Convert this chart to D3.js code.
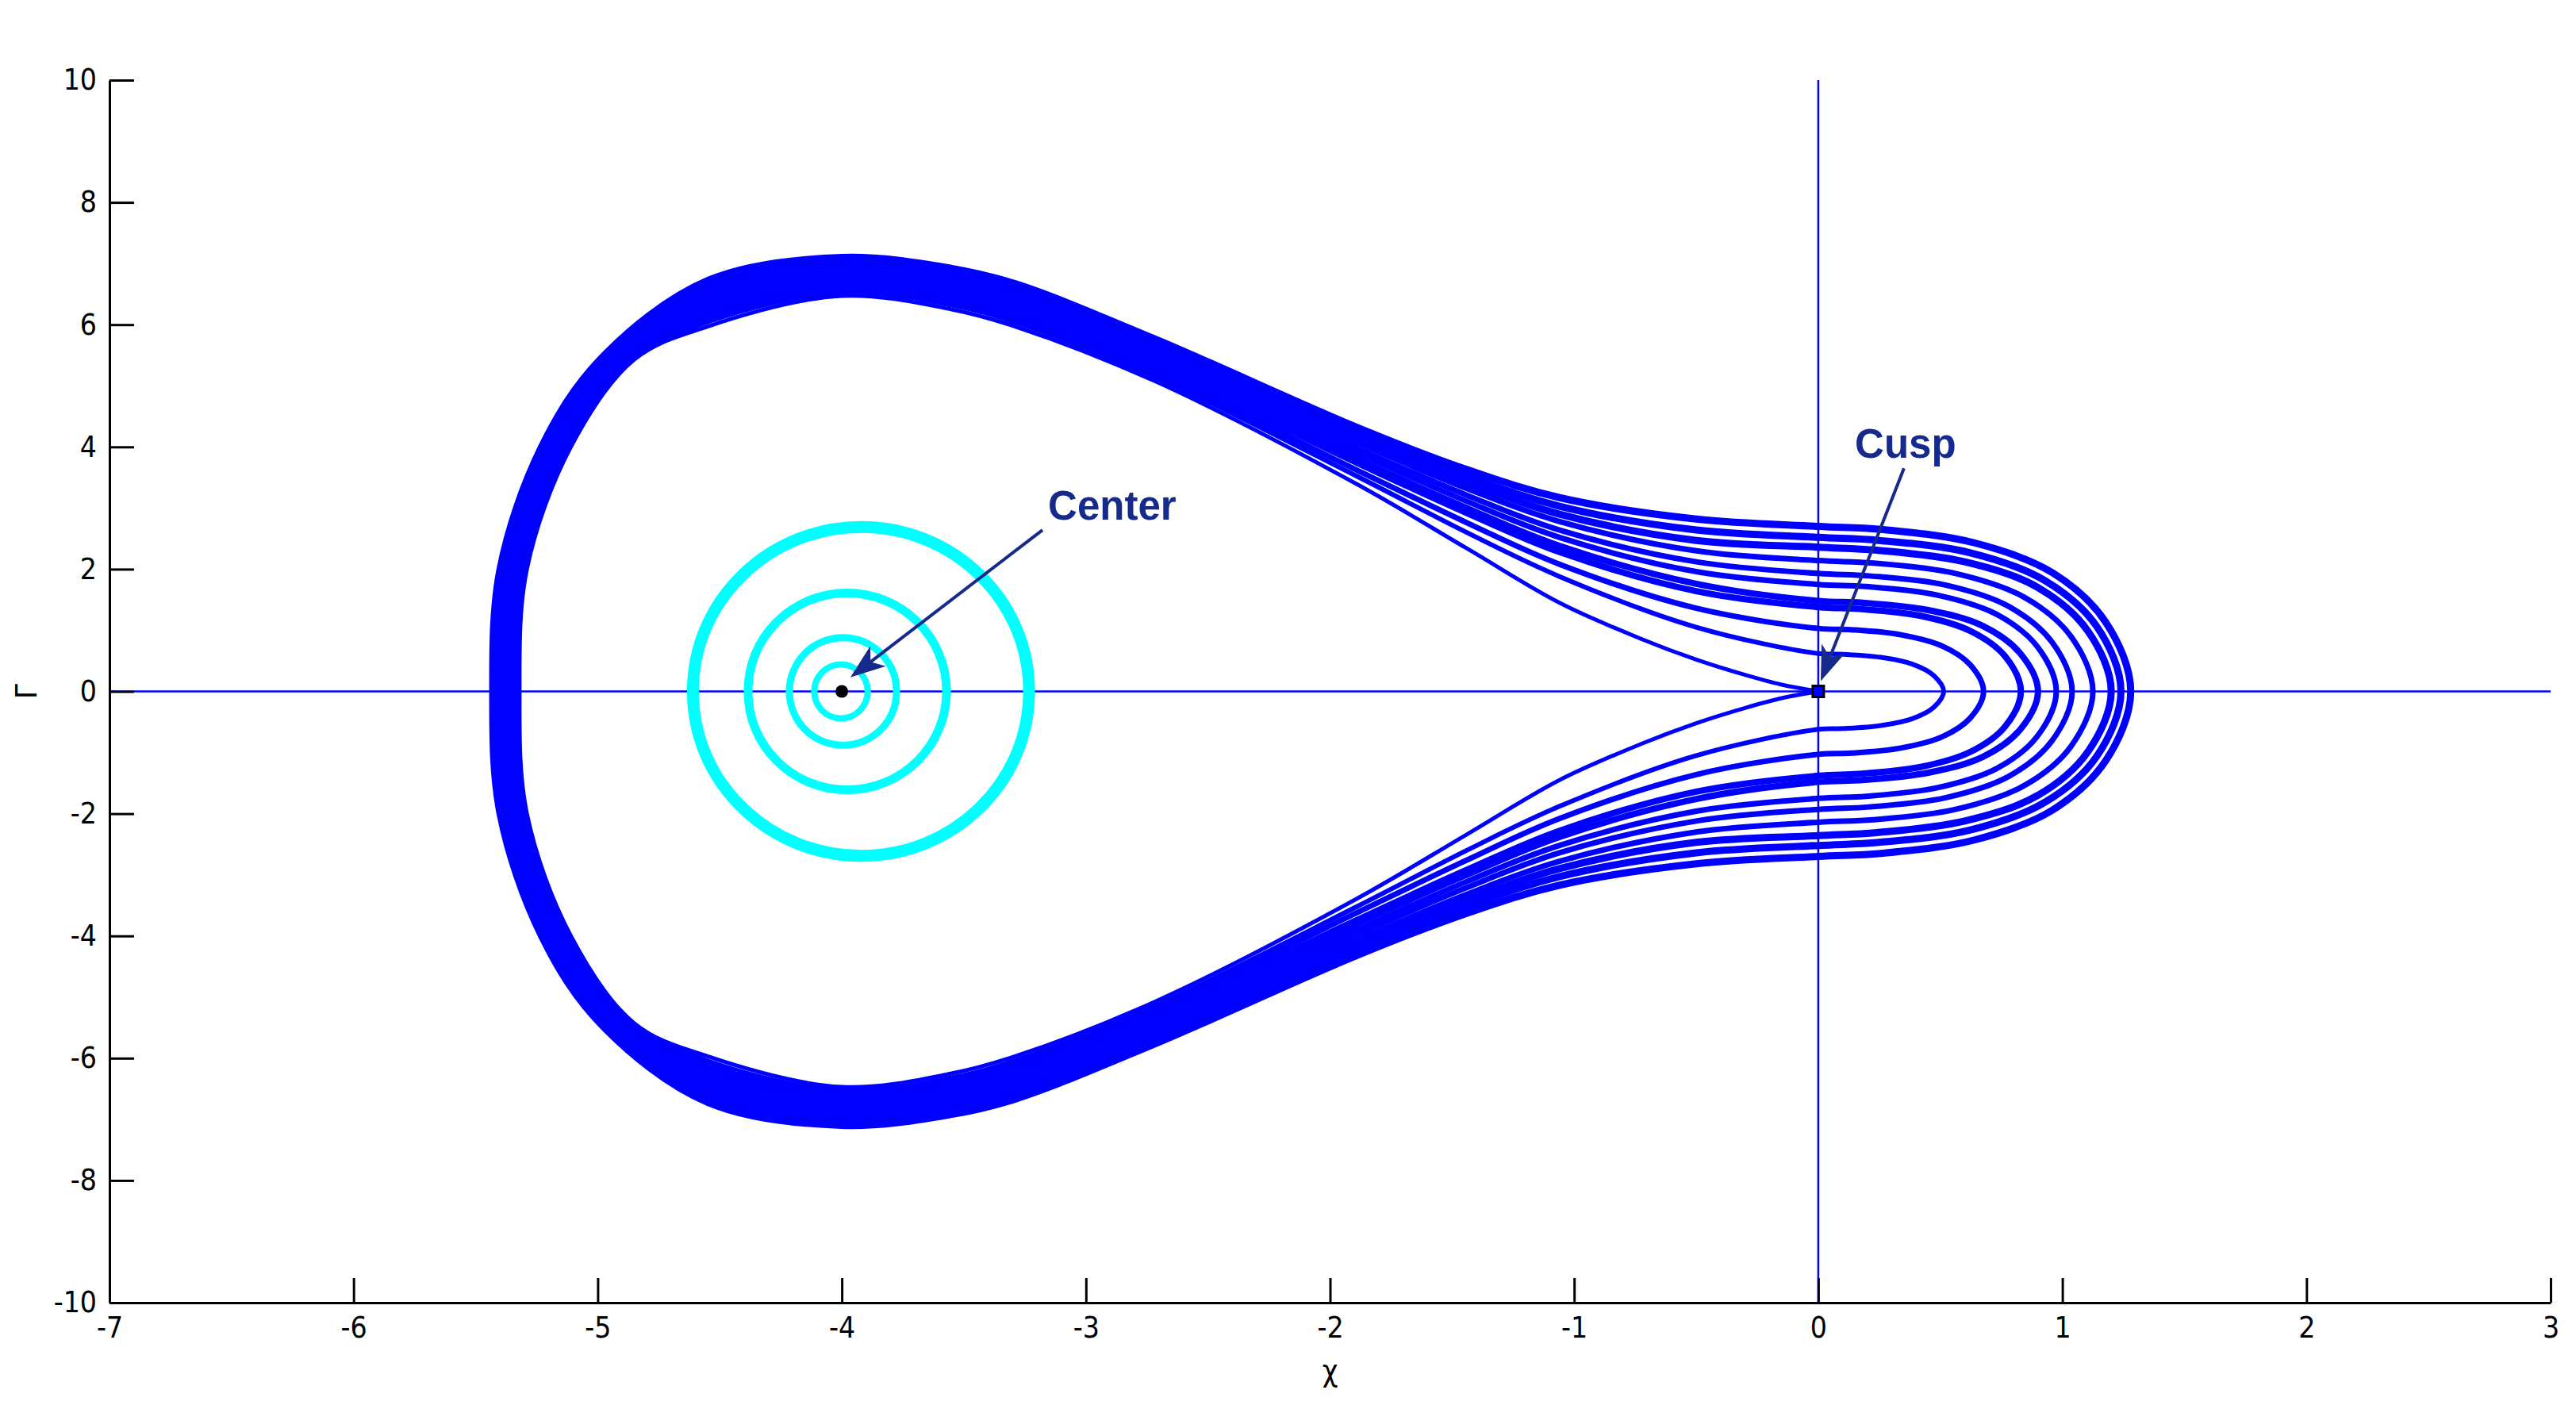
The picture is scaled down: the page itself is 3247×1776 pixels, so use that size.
<!DOCTYPE html>
<html>
<head>
<meta charset="utf-8">
<script src="https://cdn.jsdelivr.net/npm/d3@7"></script>
<style>
  body { margin: 0; background: #fff; }
  svg { display: block; }
</style>
</head>
<body>
<svg id="chart" width="3247" height="1776"></svg>
<script>
// ticks
var xTicks = [-7, -6, -5, -4, -3, -2, -1, 0, 1, 2, 3];
var yTicks = [-10, -8, -6, -4, -2, 0, 2, 4, 6, 8, 10];

// blue trajectories, upper half only (Gamma >= 0), [chi, Gamma]
// the plot is mirror symmetric in Gamma, lower half is the same points flipped
var orbitA = [[-5.43,0],[-5.40,2.0],[-5.23,4.0],[-4.99,5.43],[-4.55,6.72],[-4.0,7.10],[-3.55,6.92],[-3.29,6.67],[-2.72,5.77],[-1.89,4.32],[-1.44,3.63],[-1.06,3.17],[-0.5,2.82],[0,2.70],[0.256,2.65],[0.64,2.43],[0.96,1.94],[1.178,1.13],[1.28,0]];
var orbitB = [[-5.419,0],[-5.389,2.0],[-5.218,4.0],[-4.976,5.43],[-4.55,6.645],[-4.0,7.04],[-3.55,6.85],[-3.29,6.60],[-2.72,5.70],[-1.89,4.23],[-1.44,3.52],[-1.06,3.03],[-0.5,2.64],[0,2.52],[0.248,2.47],[0.62,2.27],[0.93,1.81],[1.141,1.06],[1.24,0]];
var orbitC = [[-5.408,0],[-5.378,2.0],[-5.206,4.0],[-4.962,5.43],[-4.55,6.57],[-4.0,6.97],[-3.55,6.79],[-3.29,6.53],[-2.72,5.63],[-1.89,4.15],[-1.44,3.42],[-1.06,2.90],[-0.5,2.47],[0,2.36],[0.24,2.31],[0.60,2.12],[0.90,1.70],[1.104,0.99],[1.20,0]];
var orbitD = [[-5.397,0],[-5.367,2.0],[-5.194,4.0],[-4.948,5.43],[-4.55,6.495],[-4.0,6.91],[-3.55,6.72],[-3.29,6.46],[-2.72,5.56],[-1.89,4.07],[-1.44,3.32],[-1.06,2.78],[-0.5,2.30],[0,2.14],[0.225,2.10],[0.5625,1.93],[0.844,1.54],[1.035,0.90],[1.125,0]];
var orbitE = [[-5.386,0],[-5.356,2.0],[-5.182,4.0],[-4.934,5.43],[-4.55,6.42],[-4.0,6.85],[-3.55,6.65],[-3.29,6.39],[-2.72,5.49],[-1.89,3.98],[-1.44,3.21],[-1.06,2.64],[-0.5,2.12],[0,1.93],[0.208,1.89],[0.52,1.74],[0.78,1.39],[0.957,0.81],[1.04,0]];
var orbitF = [[-5.375,0],[-5.345,2.0],[-5.17,4.0],[-4.92,5.43],[-4.55,6.345],[-4.0,6.79],[-3.55,6.59],[-3.29,6.32],[-2.72,5.42],[-1.89,3.90],[-1.44,3.11],[-1.06,2.52],[-0.5,1.96],[0,1.75],[0.195,1.715],[0.4875,1.575],[0.731,1.26],[0.897,0.735],[0.975,0]];
var orbitG = [[-5.364,0],[-5.334,2.0],[-5.158,4.0],[-4.906,5.43],[-4.55,6.27],[-4.0,6.72],[-3.55,6.52],[-3.29,6.25],[-2.72,5.35],[-1.89,3.80],[-1.44,3.00],[-1.06,2.38],[-0.5,1.76],[0,1.48],[0.18,1.45],[0.45,1.33],[0.675,1.07],[0.828,0.62],[0.90,0]];
var orbitH = [[-5.353,0],[-5.323,2.0],[-5.146,4.0],[-4.892,5.43],[-4.55,6.195],[-4.0,6.66],[-3.55,6.45],[-3.29,6.18],[-2.72,5.29],[-1.89,3.74],[-1.44,2.92],[-1.06,2.28],[-0.5,1.64],[0,1.38],[0.166,1.35],[0.415,1.24],[0.6225,0.99],[0.764,0.58],[0.83,0]];
var orbitI = [[-5.342,0],[-5.312,2.0],[-5.134,4.0],[-4.878,5.43],[-4.55,6.12],[-4.0,6.60],[-3.55,6.38],[-3.29,6.11],[-2.72,5.22],[-1.89,3.62],[-1.44,2.76],[-1.06,2.08],[-0.5,1.36],[0,1.03],[0.135,1.01],[0.3385,0.927],[0.508,0.742],[0.623,0.433],[0.677,0]];
var orbitJ = [[-5.331,0],[-5.301,2.0],[-5.122,4.0],[-4.864,5.43],[-4.55,6.045],[-4.0,6.53],[-3.55,6.32],[-3.29,6.04],[-2.72,5.15],[-1.89,3.52],[-1.44,2.60],[-1.06,1.88],[-0.5,1.05],[0,0.62],[0.103,0.608],[0.257,0.558],[0.3855,0.446],[0.473,0.26],[0.514,0]];
// separatrix that runs into the cusp at the origin
var separatrix = [[-5.32,0],[-5.29,2.0],[-5.11,4.0],[-4.85,5.43],[-4.55,5.97],[-4.0,6.47],[-3.55,6.25],[-3.29,5.97],[-2.72,5.08],[-1.89,3.39],[-1.44,2.34],[-1.06,1.45],[-0.72,0.85],[-0.5,0.52],[-0.3,0.27],[-0.15,0.11],[0,0]];

// cyan orbits round the center, upper half
var ring1 = [[-3.894,0],[-3.902,0.168],[-3.926,0.311],[-3.961,0.407],[-4.0,0.44],[-4.046,0.407],[-4.081,0.311],[-4.105,0.168],[-4.113,0]];
var ring2 = [[-3.776,0],[-3.792,0.337],[-3.84,0.622],[-3.91,0.813],[-3.996,0.88],[-4.08,0.813],[-4.151,0.622],[-4.198,0.337],[-4.215,0]];
var ring3 = [[-3.571,0],[-3.602,0.616],[-3.690,1.138],[-3.822,1.488],[-3.978,1.61],[-4.134,1.488],[-4.266,1.138],[-4.354,0.616],[-4.384,0]];
var ring4 = [[-3.233,0],[-3.285,1.03],[-3.434,1.90],[-3.657,2.485],[-3.92,2.69],[-4.184,2.485],[-4.408,1.90],[-4.558,1.03],[-4.61,0]];

// fixed points
var centerPt = [-4, 0];
var cuspPt = [0, 0];

var orbits = [orbitA, orbitB, orbitC, orbitD, orbitE, orbitF, orbitG, orbitH, orbitI, orbitJ];
var orbitWidth = [9, 9, 9, 7, 7, 7, 8, 8, 7, 6];
var rings = [ring1, ring2, ring3, ring4];
var ringWidth = [8, 9, 11, 15];

var svg = d3.select("#chart");
var x = d3.scaleLinear().domain([-7, 3]).range([138, 3215]);
var y = d3.scaleLinear().domain([-10, 10]).range([1642, 101]);

var tickFont = "'Liberation Sans Narrow', 'Arial Narrow', 'DejaVu Sans Condensed', sans-serif";
var labelColor = "#162a8c";

// upper half + mirrored lower half as one closed loop
function loop(upper) {
    var lower = upper.slice(1, -1).map(function(p) { return [p[0], -p[1]]; }).reverse();
    return upper.concat(lower);
}

var closedLine = d3.line()
    .x(function(d) { return x(d[0]); })
    .y(function(d) { return y(d[1]); })
    .curve(d3.curveCatmullRomClosed.alpha(0.5));

var openLine = d3.line()
    .x(function(d) { return x(d[0]); })
    .y(function(d) { return y(d[1]); })
    .curve(d3.curveCatmullRom.alpha(0.5));

// zero lines
svg.append("line")
    .attr("x1", x(-7)).attr("x2", x(3))
    .attr("y1", y(0)).attr("y2", y(0))
    .attr("stroke", "#0000ff").attr("stroke-width", 2.5);
svg.append("line")
    .attr("x1", x(0)).attr("x2", x(0))
    .attr("y1", y(-10)).attr("y2", y(10))
    .attr("stroke", "#0000ff").attr("stroke-width", 2.5);

// blue trajectories
svg.append("g").selectAll("path")
    .data(orbits)
    .enter().append("path")
    .attr("d", function(d) { return closedLine(loop(d)); })
    .attr("fill", "none")
    .attr("stroke", "#0000ff")
    .attr("stroke-width", function(d, i) { return orbitWidth[i]; })
    .attr("stroke-linejoin", "round");

// separatrix: out of the cusp, round the left, back into the cusp
var sepUpper = separatrix.slice().reverse();
var sepLower = separatrix.map(function(p) { return [p[0], -p[1]]; });
var sepPath = sepUpper.concat(sepLower.slice(1));
svg.append("path")
    .attr("d", openLine(sepPath))
    .attr("fill", "none")
    .attr("stroke", "#0000ff")
    .attr("stroke-width", 5);

// cyan rings
svg.append("g").selectAll("path")
    .data(rings)
    .enter().append("path")
    .attr("d", function(d) { return closedLine(loop(d)); })
    .attr("fill", "none")
    .attr("stroke", "#00ffff")
    .attr("stroke-width", function(d, i) { return ringWidth[i]; });

// axes
var xAxis = svg.append("g")
    .attr("transform", "translate(0," + y(-10) + ")")
    .call(d3.axisBottom(x).tickValues(xTicks).tickSize(-31).tickSizeOuter(0)
        .tickPadding(18).tickFormat(function(d) { return String(d); }));
var yAxis = svg.append("g")
    .attr("transform", "translate(" + x(-7) + ",0)")
    .call(d3.axisLeft(y).tickValues(yTicks).tickSize(-31).tickSizeOuter(0)
        .tickPadding(16).tickFormat(function(d) { return String(d); }));

[xAxis, yAxis].forEach(function(g) {
    g.selectAll("path, line").attr("stroke", "#000").attr("stroke-width", 3);
    g.selectAll("text")
        .attr("fill", "#000")
        .style("font-family", tickFont)
        .style("font-size", "37px");
});

svg.append("text")
    .attr("x", (x(-7) + x(3)) / 2)
    .attr("y", 1741)
    .attr("text-anchor", "middle")
    .style("font-family", tickFont)
    .style("font-size", "38px")
    .text("χ");

svg.append("text")
    .attr("transform", "translate(46," + y(0) + ") rotate(-90)")
    .attr("text-anchor", "middle")
    .style("font-family", tickFont)
    .style("font-size", "38px")
    .text("Γ");

// annotation arrows (tail -> tip, data coords)
var arrows = [
    { tail: [-3.178, 2.64], tip: [-3.965, 0.23] },
    { tail: [0.351, 3.65], tip: [0.010, 0.17] }
];
arrows.forEach(function(a) {
    var tx = x(a.tail[0]), ty = y(a.tail[1]);
    var hx = x(a.tip[0]), hy = y(a.tip[1]);
    var len = Math.sqrt((hx - tx) * (hx - tx) + (hy - ty) * (hy - ty));
    var ux = (hx - tx) / len, uy = (hy - ty) / len;
    var nx = -uy, ny = ux;
    var headLen = 44, headW = 16, notch = 32;
    svg.append("line")
        .attr("x1", tx).attr("y1", ty)
        .attr("x2", hx - ux * notch).attr("y2", hy - uy * notch)
        .attr("stroke", labelColor).attr("stroke-width", 4);
    var pts = [
        [hx, hy],
        [hx - ux * headLen + nx * headW, hy - uy * headLen + ny * headW],
        [hx - ux * notch, hy - uy * notch],
        [hx - ux * headLen - nx * headW, hy - uy * headLen - ny * headW]
    ];
    svg.append("polygon")
        .attr("points", pts.map(function(p) { return p.join(","); }).join(" "))
        .attr("fill", labelColor);
});

// fixed point markers
svg.append("circle")
    .attr("cx", x(centerPt[0])).attr("cy", y(centerPt[1]))
    .attr("r", 8).attr("fill", "#000");
svg.append("rect")
    .attr("x", x(cuspPt[0]) - 7).attr("y", y(cuspPt[1]) - 7)
    .attr("width", 14).attr("height", 14)
    .attr("fill", "#0000ff").attr("stroke", "#000").attr("stroke-width", 3);

// labels
var notes = [
    { text: "Center", at: [-3.155, 2.805] },
    { text: "Cusp", at: [0.15, 3.82] }
];
svg.selectAll(".note")
    .data(notes)
    .enter().append("text")
    .attr("class", "note")
    .attr("x", function(d) { return x(d.at[0]); })
    .attr("y", function(d) { return y(d.at[1]); })
    .attr("fill", labelColor)
    .style("font-family", "'Liberation Sans', Arial, sans-serif")
    .style("font-weight", "bold")
    .style("font-size", "51px")
    .text(function(d) { return d.text; });
</script>
</body>
</html>
